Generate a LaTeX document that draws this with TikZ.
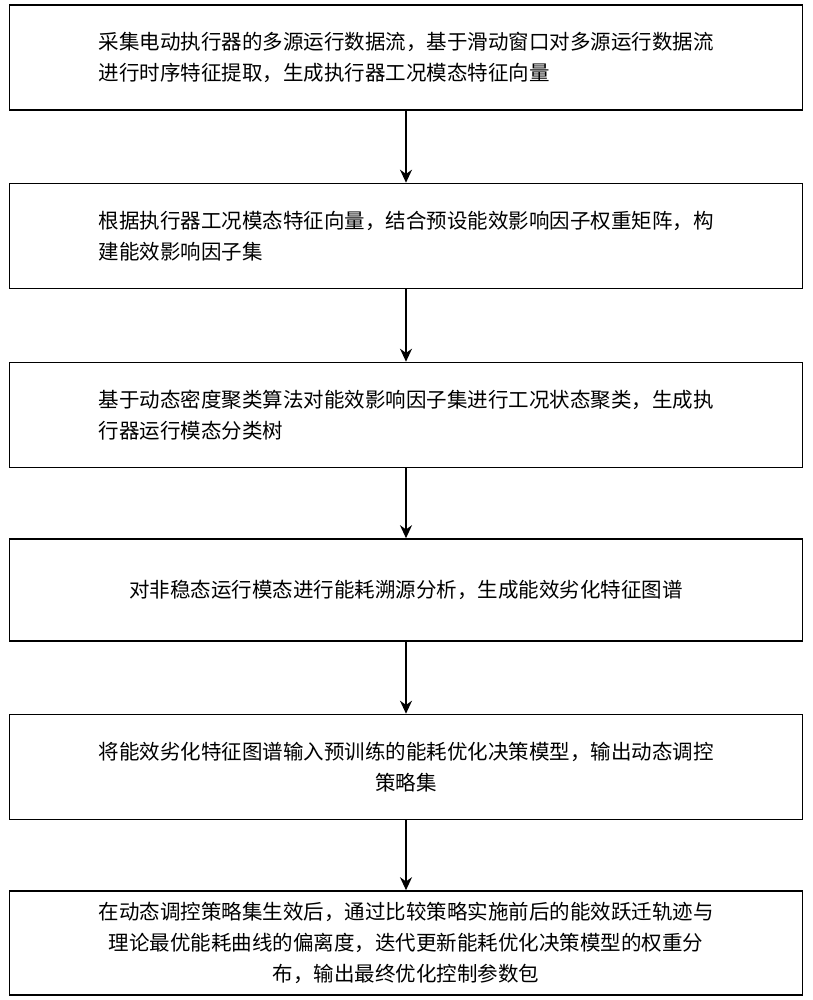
\documentclass[tikz,border=0pt]{standalone}
\usepackage{fontspec}
\setmainfont{Noto Sans CJK SC}
\usetikzlibrary{arrows.meta}
\tikzset{stepbox/.style={draw,line width=1.6pt,minimum width=793pt,align=center,inner sep=0pt,font=\fontsize{20.5}{31}\selectfont},
         flow/.style={line width=1.6pt,-{Stealth[length=13pt,width=12pt]}}}
\begin{document}
\begin{tikzpicture}[x=1pt,y=-1pt]
    \useasboundingbox (0,0) rectangle (812,1000);
    % steps
    \node[stepbox,minimum height=105pt,align=left] (s1) at (406,57.5) {采集电动执行器的多源运行数据流，基于滑动窗口对多源运行数据流\\进行时序特征提取，生成执行器工况模态特征向量};
    \node[stepbox,minimum height=105pt,align=left] (s2) at (406,236) {根据执行器工况模态特征向量，结合预设能效影响因子权重矩阵，构\\建能效影响因子集};
    \node[stepbox,minimum height=105pt,align=left] (s3) at (406,415) {基于动态密度聚类算法对能效影响因子集进行工况状态聚类，生成执\\行器运行模态分类树};
    \node[stepbox,minimum height=102pt] (s4) at (406,590) {对非稳态运行模态进行能耗溯源分析，生成能效劣化特征图谱};
    \node[stepbox,minimum height=105pt] (s5) at (406,767) {将能效劣化特征图谱输入预训练的能耗优化决策模型，输出动态调控\\策略集};
    \node[stepbox,minimum height=104pt] (s6) at (406,943) {在动态调控策略集生效后，通过比较策略实施前后的能效跃迁轨迹与\\理论最优能耗曲线的偏离度，迭代更新能耗优化决策模型的权重分\\布，输出最终优化控制参数包};
    % arrows
    \foreach \a/\b in {s1/s2,s2/s3,s3/s4,s4/s5,s5/s6}
        \draw[flow] (\a) -- (\b);
\end{tikzpicture}
\end{document}
